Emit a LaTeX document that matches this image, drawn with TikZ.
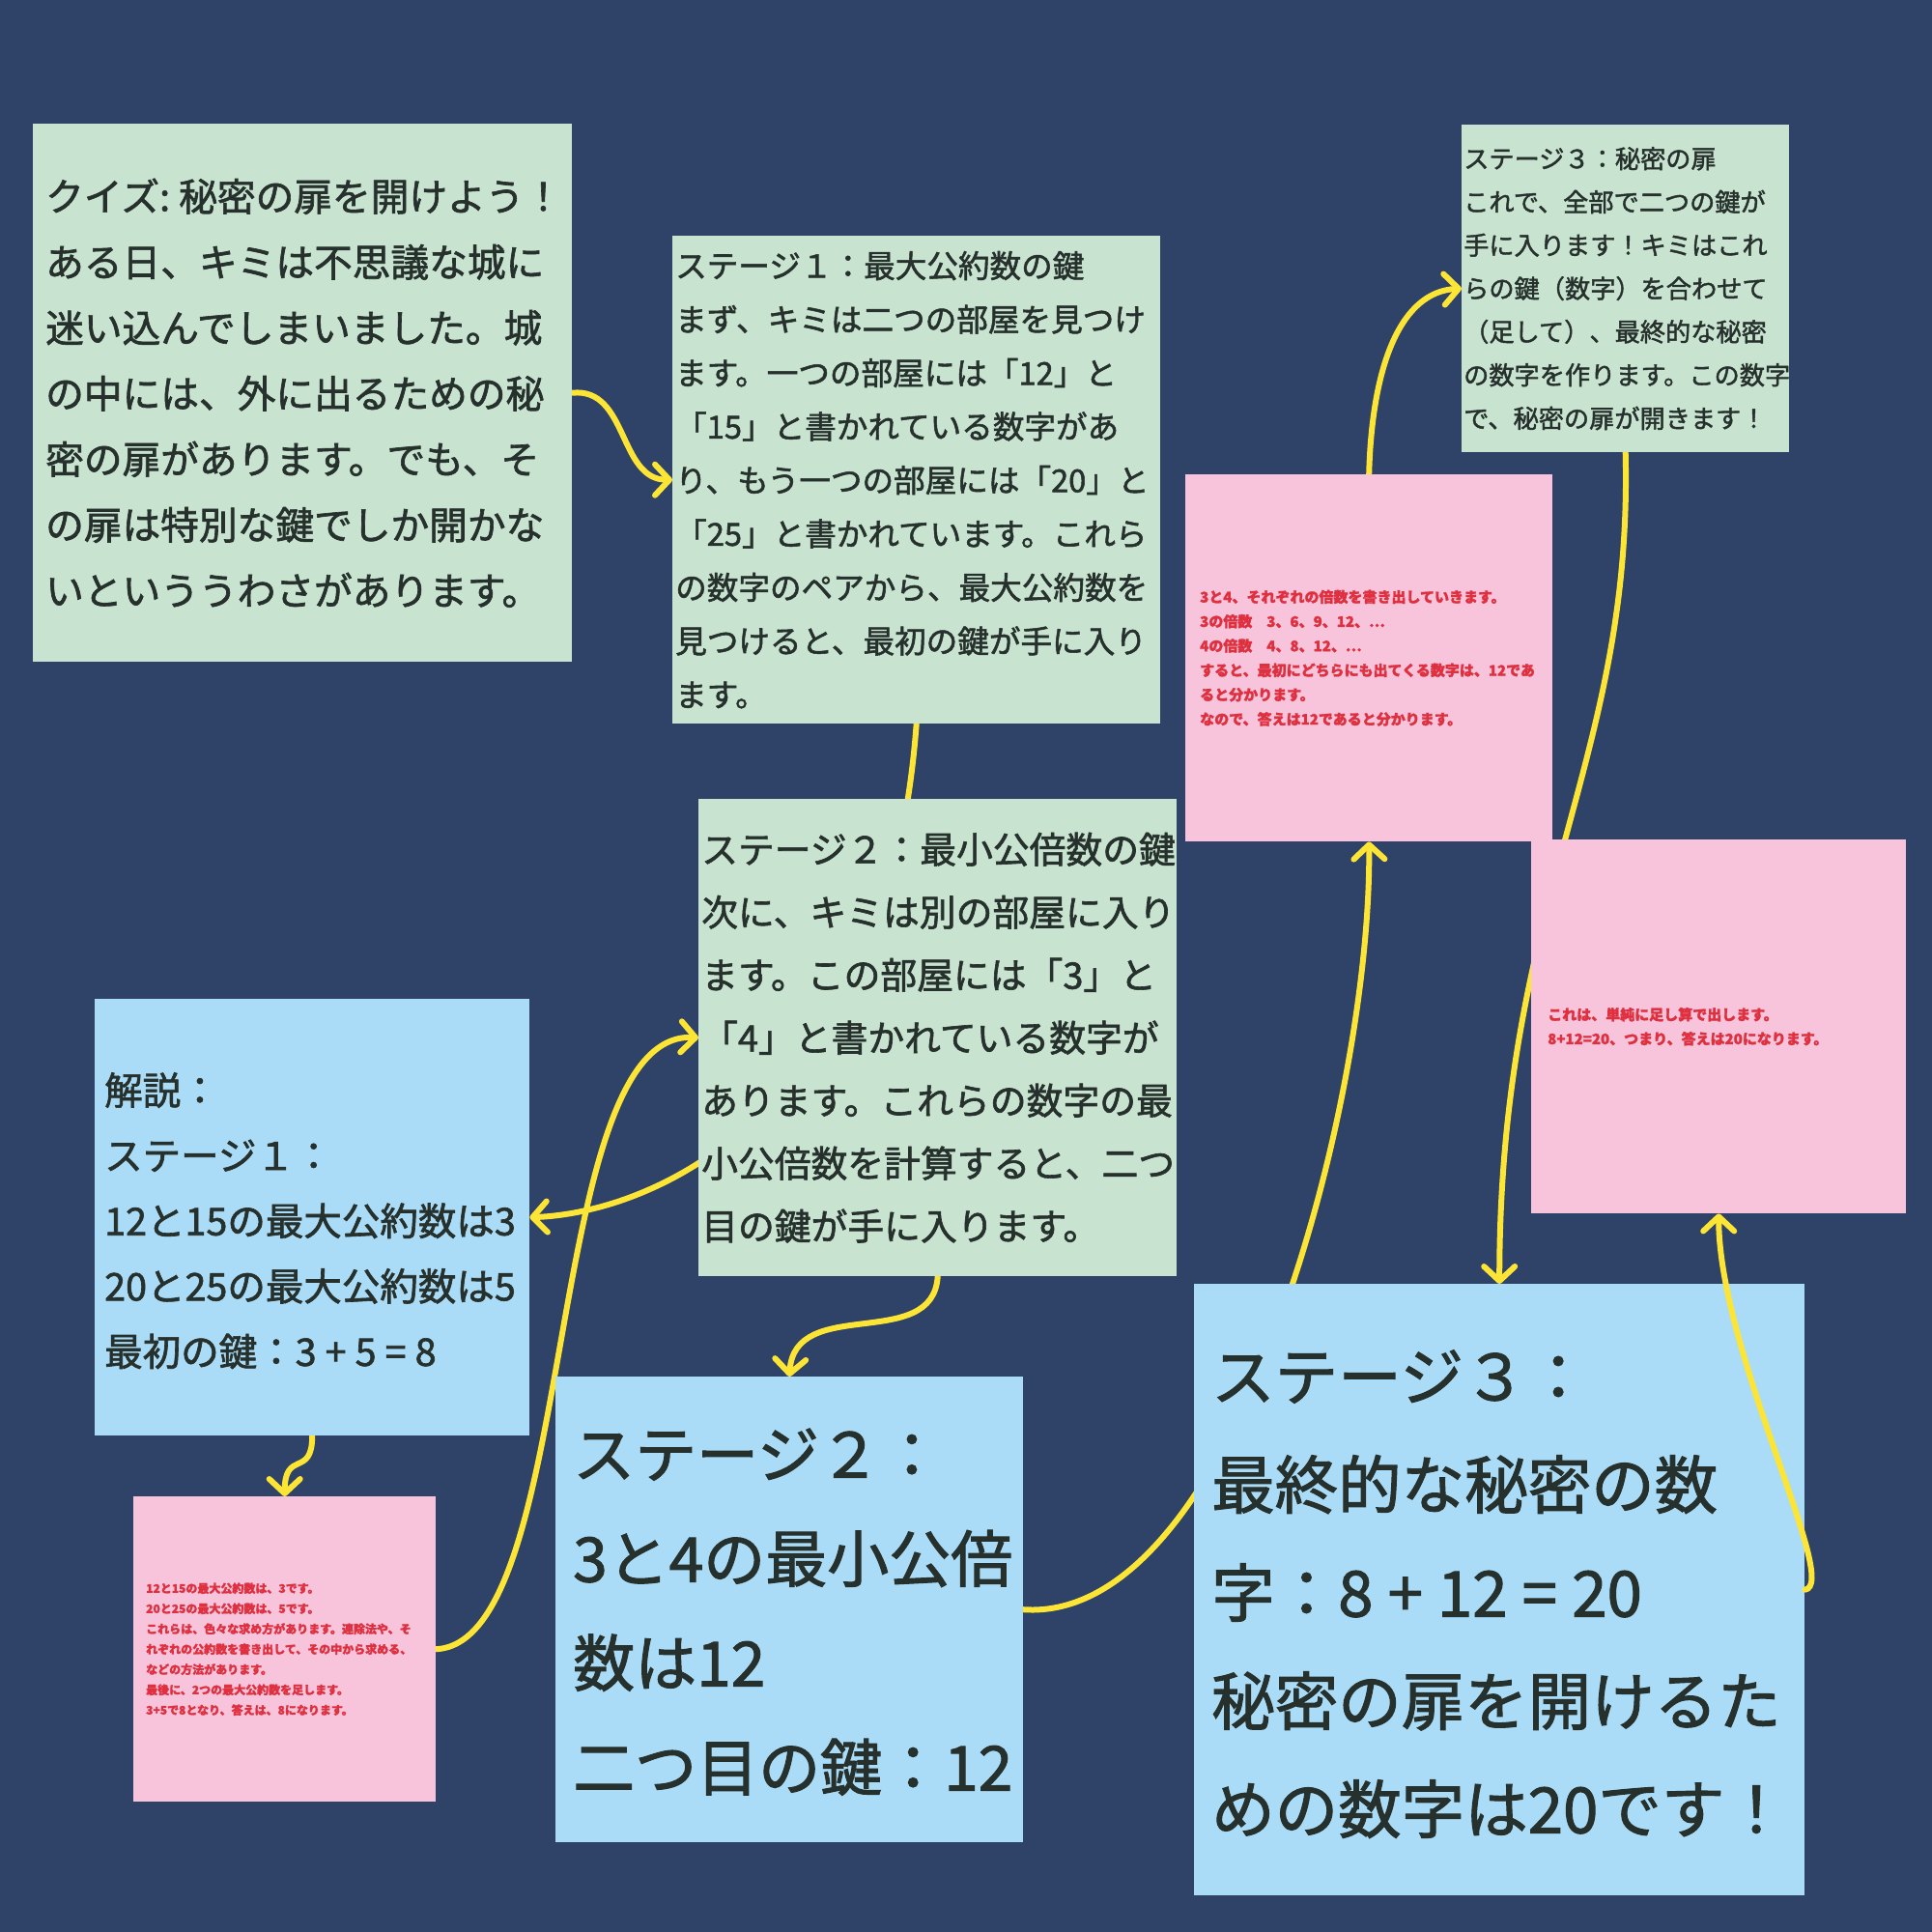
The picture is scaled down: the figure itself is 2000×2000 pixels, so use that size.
\documentclass[tikz,border=0pt]{standalone}
\usepackage{fontspec}
\setmainfont{Noto Sans CJK JP}[FakeBold=1.6]
\usetikzlibrary{arrows.meta}
\definecolor{bgc}{HTML}{2F4268}
\definecolor{greenb}{HTML}{C8E3D0}
\definecolor{pinkb}{HTML}{F8C4DC}
\definecolor{blueb}{HTML}{ABDCF7}
\definecolor{yel}{HTML}{FDE535}
\definecolor{ink}{HTML}{26302C}
\definecolor{redt}{HTML}{DF3040}
\pgfdeclarelayer{under}
\pgfsetlayers{under,main}
\newcommand{\fs}[2]{\fontsize{#1pt}{#2pt}\selectfont}
\newcommand{\ts}{\hspace{.23em}}
\tikzset{
 box/.style n args={3}{anchor=north west,inner ysep=0pt,align=left,text=ink,
   minimum width=#1pt,minimum height=#2pt,inner xsep=#3pt,text width={#1pt-2*#3pt}},
 redtext/.style={text=redt},
 link/.style={draw=yel,line width=6pt,line cap=round,-{Straight Barb[length=15pt,width=32pt,round]}},
}
\begin{document}
\begin{tikzpicture}[x=1pt,y=-1pt]
\begin{pgfonlayer}{under}
\fill[bgc] (0,0) rectangle (2000,2000);
\end{pgfonlayer}
\useasboundingbox (0,0) rectangle (2000,2000);
\node[box={558}{557}{13},fill=greenb,font=\fs{39.7}{68}] (a) at (34,128) {\mbox{クイズ:\ts 秘密の扉を開けよう！}\\ある日、キミは不思議な城に\\迷い込んでしまいました。城\\の中には、外に出るための秘\\密の扉があります。でも、そ\\の扉は特別な鍵でしか開かな\\いといううわさがあります。};
\node[box={505}{505}{3},fill=greenb,font=\fs{32.6}{55.5}] (b) at (696,244) {ステージ１：最大公約数の鍵\\まず、キミは二つの部屋を見つけ\\ます。一つの部屋には「12」と\\「15」と書かれている数字があ\\り、もう一つの部屋には「20」と\\「25」と書かれています。これら\\の数字のペアから、最大公約数を\\見つけると、最初の鍵が手に入り\\ます。};
\node[box={495}{494}{3},fill=greenb,font=\fs{37.8}{65}] (c) at (723,827) {ステージ２：最小公倍数の鍵\\次に、キミは別の部屋に入り\\ます。この部屋には「3」と\\「4」と書かれている数字が\\あります。これらの数字の最\\小公倍数を計算すると、二つ\\目の鍵が手に入ります。};
\node[box={339}{339}{2},fill=greenb,font=\fs{26.2}{44.8}] (d) at (1513,129) {ステージ３：秘密の扉\\これで、全部で二つの鍵が\\手に入ります！キミはこれ\\らの鍵（数字）を合わせて\\（足して）、最終的な秘密\\の数字を作ります。この数字\\で、秘密の扉が開きます！};
\node[box={380}{380}{15},fill=pinkb,redtext,font=\bfseries\fs{15}{25.3}] (e) at (1227,491) {3と4、それぞれの倍数を書き出していきます。\\3の倍数　3、6、9、12、⋯\\4の倍数　4、8、12、⋯\\すると、最初にどちらにも出てくる数字は、12であ\\ると分かります。\\なので、答えは12であると分かります。};
\node[box={388}{387}{17},fill=pinkb,redtext,font=\bfseries\fs{15}{25}] (f) at (1585,869) {これは、単純に足し算で出します。\\8+12=20、つまり、答えは20になります。};
\node[box={450}{452}{10},fill=blueb,font=\fs{39.5}{67.6}] (g) at (98,1034) {解説：\\ステージ１：\\12と15の最大公約数は3\\20と25の最大公約数は5\\最初の鍵：3\ts+\ts5\ts=\ts8\vspace{-7pt}};
\node[box={313}{316}{13},fill=pinkb,redtext,font=\bfseries\fs{12}{21}] (h) at (138,1549) {12と15の最大公約数は、3です。\\20と25の最大公約数は、5です。\\これらは、色々な求め方があります。連除法や、そ\\れぞれの公約数を書き出して、その中から求める、\\などの方法があります。\\最後に、2つの最大公約数を足します。\\3+5で8となり、答えは、8になります。};
\node[box={484}{482}{18},fill=blueb,font=\fs{64}{108}] (i) at (575,1425) {ステージ２：\\3と4の最小公倍\\数は12\\二つ目の鍵：12\vspace{-5pt}};
\node[box={632}{633}{18},fill=blueb,font=\fs{65.5}{112}] (j) at (1236,1329) {ステージ３：\\最終的な秘密の数\\字：8\ts+\ts12\ts=\ts20\\秘密の扉を開けるた\\めの数字は20です！\vspace{-9pt}};
\begin{pgfonlayer}{under}
\draw[link] (a.east) .. controls +(58,-6) and +(-56,0) .. (b.west);
\draw[link] (b.south) .. controls +(-30,400) and +(132,-5) .. (g.east);
\draw[link] (c.south) .. controls +(-5,79) and +(5,-85) .. (i.north);
\draw[link] (g.south) .. controls +(0,44) and +(0,-49) .. (h.north);
\draw[link] (h.east) .. controls +(149,-7) and +(-163,-8) .. (c.west);
\draw[link] (i.east) .. controls +(220,15) and +(3,265) .. (e.south);
\draw[link] (e.north) .. controls +(3,-115) and +(-62,3) .. (d.west);
\draw[link] (d.south) .. controls +(8,320) and +(0,-400) .. (j.north);
\end{pgfonlayer}
\draw[link] (j.east) .. controls +(38,-5) and +(0,144) .. (f.south);
\end{tikzpicture}
\end{document}
